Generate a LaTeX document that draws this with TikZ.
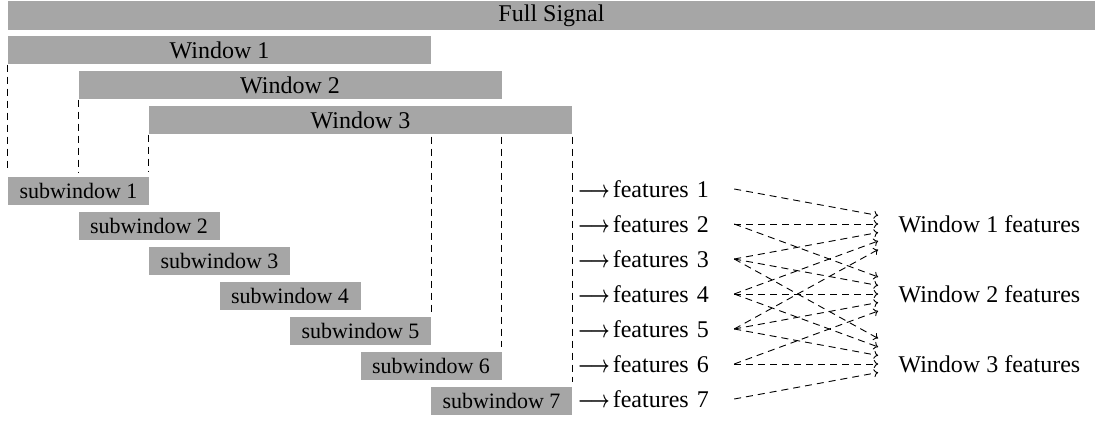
\documentclass[tikz,border=0pt]{standalone}
\usepackage{amsmath}
\usepackage{bm}
\usepackage{fontspec}
\setmainfont{Liberation Serif}
\usepackage{graphicx}
\usetikzlibrary{calc,arrows.meta}
\tikzset{
  bar/.style={fill=black!35, inner sep=0pt, minimum height=14.25pt, font=\fontsize{12}{14}\selectfont},
  subbox/.style={fill=black!35, inner sep=0pt, minimum height=14.25pt, minimum width=70.5pt, font=\fontsize{11}{13}\selectfont},
  guide/.style={dash pattern=on 3.5pt off 2.5pt, line width=0.45pt},
  feat/.style={anchor=west, inner sep=0pt, text width=78pt, align=left, font=\fontsize{12}{14}\selectfont},
  wfeat/.style={anchor=west, inner sep=0pt, font=\fontsize{12}{14}\selectfont},
  link/.style={dash pattern=on 3.5pt off 2.5pt, line width=0.45pt, -{To[length=2.2pt,width=4pt]}},
}
\newcommand{\myarrow}{\scalebox{0.72}[1]{$\bm{\longrightarrow}$}}
\begin{document}
\begin{tikzpicture}[x=0.5pt,y=-0.5pt]
\useasboundingbox (0,0) rectangle (1097,421);
% full signal
\node[bar, minimum width=543.5pt] (full) at (551.5,15.5) {Full Signal};
% windows
\foreach \k in {1,2,3} {
  \node[bar, minimum width=211.5pt] (win\k) at ({219.5+70.5*(\k-1)},{50+35*(\k-1)}) {Window \k};
}
% subwindows
\foreach \k in {1,...,7} {
  \node[subbox] (sub\k) at ({78.5+70.5*(\k-1)},{191+35*(\k-1)}) {subwindow \k};
}
% guide lines
\draw[guide] (win1.south west) -- ($(sub1.north west)+(0,-4)$);
\draw[guide] (win2.south west) -- ($(win2.south west |- sub1.north)+(0,-4)$);
\draw[guide] (win3.south west) -- ($(win3.south west |- sub1.north)+(0,-4)$);
\draw[guide] ($(win1.south east |- win3.south)+(0,2)$) -- ($(sub5.north east)+(0,-4)$);
\draw[guide] ($(win2.south east |- win3.south)+(0,2)$) -- ($(sub6.north east)+(0,-4)$);
\draw[guide] ($(win3.south east)+(0,2)$) -- ($(sub7.north east)+(0,-4)$);
% features
\foreach \k in {1,...,7} {
  \node[feat] (f\k) at ($(sub7.east |- sub\k.center)+(5,-2)$) {\myarrow\hspace{1.5pt}features \k};
}
% window features
\node[wfeat] (w1) at ($(f2.east)+(164,0)$) {Window 1 features};
\node[wfeat] (w2) at ($(f4.east)+(164,0)$) {Window 2 features};
\node[wfeat] (w3) at ($(f6.east)+(164,0)$) {Window 3 features};
% links
\foreach \s/\t/\o in {1/1/-1,2/1/0,3/1/1,4/1/2,5/1/3,
                      2/2/-2,3/2/-1,4/2/0,5/2/1,6/2/2,
                      3/3/-3,4/3/-2,5/3/-1,6/3/0,7/3/1} {
  \draw[link] (f\s.east) -- ($(w\t.west)+(-20,{8.5*\o})$);
}
\end{tikzpicture}
\end{document}
